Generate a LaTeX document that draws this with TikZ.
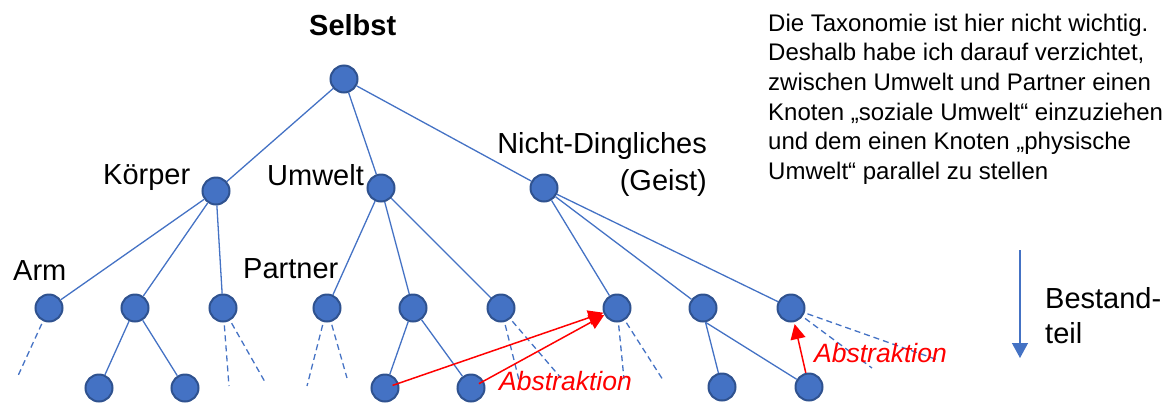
\documentclass[tikz,border=0pt]{standalone}
\usepackage{fontspec}
\setmainfont{Liberation Sans}
\usetikzlibrary{arrows.meta}
\definecolor{nodeblue}{HTML}{4472C4}
\definecolor{nodeborder}{HTML}{2F528F}
\begin{document}
\begin{tikzpicture}[x=1pt,y=-1pt,
  knot/.style={circle,fill=nodeblue,draw=nodeborder,line width=2pt,minimum size=27pt,inner sep=0pt},
  edge/.style={draw=nodeblue,line width=1.3pt},
  dsh/.style={draw=nodeblue,line width=1.3pt,dash pattern=on 6pt off 4pt,shorten <=3pt},
  absarrow/.style={draw=red,line width=1.5pt,-{Triangle[length=15pt,width=15pt]}},
  lbl/.style={inner sep=0pt,font=\fontsize{29}{35}\selectfont},
  abstext/.style={inner sep=0pt,anchor=base west,text=red,font=\itshape\fontsize{26.5}{30}\selectfont},
]
\path[use as bounding box] (0,0) rectangle (1168,408);

% tree nodes
\node[knot] (root) at (344,79) {};
\node[knot] (koerper) at (216,191) {};
\node[knot] (umwelt) at (381,188) {};
\node[knot] (nicht) at (544,188) {};
\node[knot] (arm) at (49,308) {};
\node[knot] (k2) at (135,308) {};
\node[knot] (k3) at (223,308) {};
\node[knot] (partner) at (327,308) {};
\node[knot] (u2) at (413,308) {};
\node[knot] (u3) at (501,308) {};
\node[knot] (n1) at (617,308) {};
\node[knot] (n2) at (703,308) {};
\node[knot] (n3) at (791,308) {};
\node[knot] (b1) at (99,388) {};
\node[knot] (b2) at (185,388) {};
\node[knot] (b3) at (385,388) {};
\node[knot] (b4) at (471,388) {};
\node[knot] (b5) at (722,387) {};
\node[knot] (b6) at (809,387) {};

% edges
\draw[edge] (root) -- (koerper);
\draw[edge] (root) -- (umwelt);
\draw[edge] (root) -- (nicht);
\draw[edge] (koerper) -- (arm);
\draw[edge] (koerper) -- (k2);
\draw[edge] (koerper) -- (k3);
\draw[edge] (umwelt) -- (partner);
\draw[edge] (umwelt) -- (u2);
\draw[edge] (umwelt) -- (u3);
\draw[edge] (nicht) -- (n1);
\draw[edge] (nicht) -- (n2);
\draw[edge] (nicht) -- (n3);
\draw[edge] (k2) -- (b1);
\draw[edge] (k2) -- (b2);
\draw[edge] (u2) -- (b3);
\draw[edge] (u2) -- (b4);
\draw[edge] (n2.-80) -- (b5);
\draw[edge] (n2.-80) -- (b6);

% dashed stubs
\coordinate (da1) at (17,378);
\coordinate (dk1) at (229,386);
\coordinate (dk2) at (265,382);
\coordinate (dp1) at (307,386);
\coordinate (dp2) at (347,378);
\coordinate (du1) at (519,380);
\coordinate (du2) at (561,378);
\coordinate (dn1) at (624,379);
\coordinate (dn2) at (663,380);
\coordinate (dm1) at (938,360);
\coordinate (dm2) at (872,368);
\draw[dsh] (arm) -- (da1);
\draw[dsh] (k3) -- (dk1);
\draw[dsh] (k3) -- (dk2);
\draw[dsh] (partner) -- (dp1);
\draw[dsh] (partner) -- (dp2);
\draw[dsh] (u3) -- (du1);
\draw[dsh] (u3) -- (du2);
\draw[dsh] (n1) -- (dn1);
\draw[dsh] (n1) -- (dn2);
\draw[dsh] (n3) -- (dm1);
\draw[dsh] (n3) -- (dm2);

% labels
\node[lbl,font=\bfseries\fontsize{29}{35}\selectfont,anchor=base west] (selbst) at (309,35) {Selbst};
\node[lbl,anchor=base west] (lk) at (103,184) {Körper};
\node[lbl,anchor=base west] (lu) at (267,185) {Umwelt};
\node[lbl,anchor=north east,align=right,font=\fontsize{29}{37}\selectfont] (ln) at (707,132) {Nicht-Dingliches\\(Geist)};
\node[lbl,anchor=base west] (la) at (13,280) {Arm};
\node[lbl,anchor=base west] (lp) at (243,278) {Partner};
\node[lbl,anchor=north west,align=left] (lb) at (1045,287) {Bestand-\\teil};
\node[inner sep=0pt,anchor=north west,align=left,font=\fontsize{24}{29.7}\selectfont] (note) at (768,13.6) {Die Taxonomie ist hier nicht wichtig.\\Deshalb habe ich darauf verzichtet,\\zwischen Umwelt und Partner einen\\Knoten „soziale Umwelt“ einzuziehen\\und dem einen Knoten „physische\\Umwelt“ parallel zu stellen};

% Bestandteil arrow
\coordinate (bt) at (1020,250);
\coordinate (bb) at (1020,358);
\draw[nodeblue,line width=1.3pt,-{Triangle[length=15pt,width=16pt]}] (bt) -- (bb);

% abstraction arrows
\draw[absarrow,shorten <=8pt] (b3.center) -- (n1);
\draw[absarrow,shorten <=9pt] (b4.center) -- (n1);
\draw[absarrow,shorten >=2pt] (b6) -- (n3);
\node[abstext] (abs1) at (499,390) {Abstraktion};
\node[abstext] (abs2) at (814,362) {Abstraktion};
\end{tikzpicture}
\end{document}
